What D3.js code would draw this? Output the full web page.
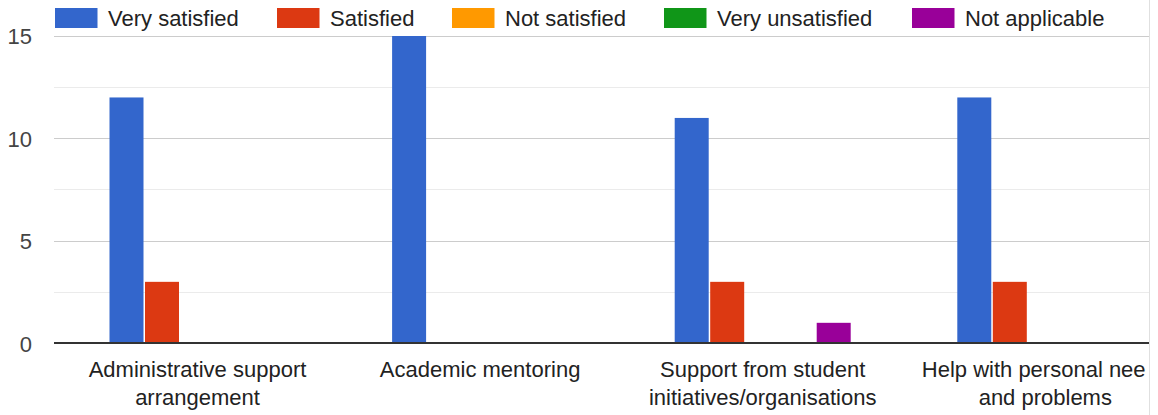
<!DOCTYPE html>
<html>
<head>
<meta charset="utf-8">
<script src="https://cdn.jsdelivr.net/npm/d3@7"></script>
<style>
  html, body { margin: 0; padding: 0; background: #fff; }
  svg { display: block; font-family: "Liberation Sans", Arial, sans-serif; }
</style>
</head>
<body>
<svg id="chart" width="1158" height="415"></svg>
<script>
const categories = [
  ["Administrative support", "arrangement"],
  ["Academic mentoring"],
  ["Support from student", "initiatives/organisations"],
  ["Help with personal needs", "and problems"]
];
const seriesNames = ["Very satisfied", "Satisfied", "Not satisfied", "Very unsatisfied", "Not applicable"];
const seriesColors = ["#3366cc", "#dc3912", "#ff9900", "#109618", "#990099"];
const verySatisfied   = [12, 15, 11, 12];
const satisfied       = [3, 0, 3, 3];
const notSatisfied    = [0, 0, 0, 0];
const veryUnsatisfied = [0, 0, 0, 0];
const notApplicable   = [0, 0, 1, 0];
const yTicks = [0, 5, 10, 15];
const yMinorTicks = [2.5, 7.5, 12.5];

const seriesValues = [verySatisfied, satisfied, notSatisfied, veryUnsatisfied, notApplicable];

const svg = d3.select("#chart");
const clipRight = 1149;
const fs = 22;

const defs = svg.append("defs");
defs.append("clipPath").attr("id", "clip")
  .append("rect").attr("x", 0).attr("y", 0).attr("width", clipRight).attr("height", 415);
defs.append("clipPath").attr("id", "clipText")
  .append("rect").attr("x", 0).attr("y", 0).attr("width", 1146).attr("height", 415);

const g = svg.append("g").attr("clip-path", "url(#clip)");

const plotLeft = 54;
const x0 = d3.scaleBand().domain(d3.range(categories.length)).range([56.2, 56.2 + 4 * 282.6]).paddingInner(0).paddingOuter(0);
const groupWidth = 176;
const x1 = d3.scaleBand().domain(d3.range(seriesNames.length)).range([0, groupWidth]).paddingInner(0.0423).paddingOuter(0);
const y = d3.scaleLinear().domain([0, 15]).range([343, 35.7]);

// minor gridlines
g.selectAll("line.minor").data(yMinorTicks).enter().append("line")
  .attr("x1", plotLeft).attr("x2", 1200)
  .attr("y1", d => Math.round(y(d)) + 0.5).attr("y2", d => Math.round(y(d)) + 0.5)
  .attr("stroke", "#ebebeb").attr("stroke-width", 1);

// major gridlines
g.selectAll("line.major").data(yTicks.filter(d => d !== 0)).enter().append("line")
  .attr("x1", plotLeft).attr("x2", 1200)
  .attr("y1", d => Math.round(y(d)) + 0.5).attr("y2", d => Math.round(y(d)) + 0.5)
  .attr("stroke", "#cccccc").attr("stroke-width", 1);

// bars
const barData = [];
categories.forEach((c, ci) => {
  seriesValues.forEach((vals, si) => {
    if (vals[ci] > 0) barData.push({ ci, si, v: vals[ci] });
  });
});
g.selectAll("rect.bar").data(barData).enter().append("rect")
  .attr("x", d => x0(d.ci) + (x0.bandwidth() - groupWidth) / 2 + x1(d.si))
  .attr("width", x1.bandwidth())
  .attr("y", d => y(d.v) + 0.3)
  .attr("height", d => y(0) - y(d.v) - 0.3)
  .attr("fill", d => seriesColors[d.si]);

// baseline
g.append("line").attr("x1", plotLeft).attr("x2", 1200)
  .attr("y1", y(0)).attr("y2", y(0))
  .attr("stroke", "#333333").attr("stroke-width", 2.2);

// y tick labels
svg.selectAll("text.ytick").data(yTicks).enter().append("text")
  .attr("x", 32).attr("y", d => y(d) + 8.5)
  .attr("text-anchor", "end").attr("font-size", fs).attr("fill", "#444444")
  .text(d => d);

// category labels
const tg = svg.append("g").attr("clip-path", "url(#clipText)");
const catG = tg.selectAll("g.cat").data(categories).enter().append("g")
  .attr("transform", (d, i) => `translate(${x0(i) + x0.bandwidth() / 2},0)`);
catG.each(function(lines) {
  const sel = d3.select(this);
  lines.forEach((ln, li) => {
    sel.append("text").attr("x", 0).attr("y", 377 + li * 28)
      .attr("text-anchor", "middle").attr("font-size", fs).attr("fill", "#222222")
      .text(ln);
  });
});

// legend
const legendX = [55, 277, 452, 664, 912];
const leg = svg.selectAll("g.leg").data(seriesNames).enter().append("g")
  .attr("transform", (d, i) => `translate(${legendX[i]},0)`);
leg.append("rect").attr("x", 0).attr("y", 8).attr("width", 42.5).attr("height", 20)
  .attr("fill", (d, i) => seriesColors[i]);
leg.append("text").attr("x", 53).attr("y", 26)
  .attr("font-size", fs).attr("fill", "#222222").text(d => d);

// right border line
svg.append("line").attr("x1", 1149.5).attr("x2", 1149.5).attr("y1", 0).attr("y2", 415)
  .attr("stroke", "#e0e0e0").attr("stroke-width", 1);
</script>
</body>
</html>
